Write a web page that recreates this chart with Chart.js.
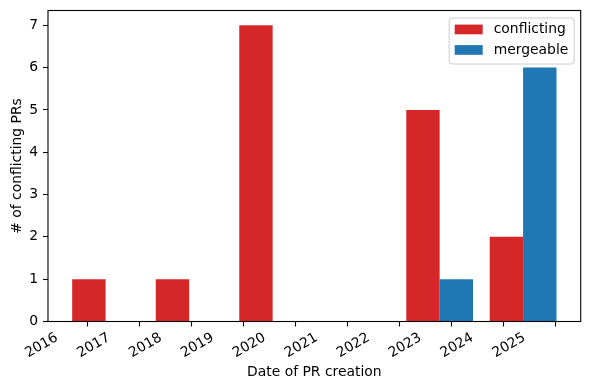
<!DOCTYPE html>
<html><head><meta charset="utf-8">
<script src="https://cdn.jsdelivr.net/npm/chart.js@4.4.1/dist/chart.umd.min.js"></script>
<style>html,body{margin:0;padding:0;background:#fff;}canvas{display:block;}</style>
</head><body>
<canvas id="c" width="590" height="390"></canvas>
<script>
// ---- data ----
const binCenters = ['2016-11-03','2018-06-14','2020-01-22','2021-09-01','2023-04-11','2024-11-18'];
const conflicting = [1, 1, 7, 0, 5, 2];
const mergeable   = [0, 0, 0, 0, 1, 6];
const yearTickLabels = ['2016','2017','2018','2019','2020','2021','2022','2023','2024','2025'];
const yTickValues = [0, 1, 2, 3, 4, 5, 6, 7];
const seriesNames = ['conflicting', 'mergeable'];
const xTitle = 'Date of PR creation';
const yTitle = '# of conflicting PRs';

// ---- helpers ----
const toDay = s => Date.parse(s + 'T00:00:00Z') / 864e5;
const xs = binCenters.map(toDay);
const binW = (xs[xs.length - 1] - xs[0]) / (xs.length - 1);
const lo = xs[0] - 0.4 * binW, hi = xs[xs.length - 1] + 0.4 * binW;
const span = hi - lo;
const xMin = lo - 0.05 * span, xMax = hi + 0.05 * span;
const yMaxData = Math.max(...conflicting, ...mergeable);
const yMax = yMaxData * 1.05;

const FS = 13.9;
Chart.defaults.font.family = 'DejaVu Sans';
Chart.defaults.font.size = FS;
Chart.defaults.color = '#000';

const framePlugin = {
  id: 'frameAndLegend',
  afterDraw(chart) {
    const ctx = chart.ctx, a = chart.chartArea;
    ctx.save();
    ctx.strokeStyle = '#000';
    ctx.lineWidth = 1.1;
    ctx.strokeRect(a.left, a.top, a.right - a.left, a.bottom - a.top);
    // legend (upper right)
    const bw = 125, bh = 46;
    const bx = a.right - 7 - bw, by = a.top + 7;
    ctx.beginPath();
    ctx.roundRect(bx + 0.5, by + 0.5, bw, bh, 3);
    ctx.fillStyle = 'rgba(255,255,255,0.8)';
    ctx.fill();
    ctx.strokeStyle = '#cccccc';
    ctx.lineWidth = 1;
    ctx.stroke();
    ctx.font = FS + 'px "DejaVu Sans"';
    ctx.textBaseline = 'middle';
    ctx.textAlign = 'left';
    chart.data.datasets.forEach((ds, i) => {
      const cy = by + 12 + i * 20.5;
      ctx.fillStyle = ds.backgroundColor;
      ctx.fillRect(bx + 6, cy - 4.9, 28, 9.7);
      ctx.fillStyle = '#000';
      ctx.fillText(ds.label, bx + 45, cy);
    });
    ctx.restore();
  }
};

new Chart(document.getElementById('c'), {
  type: 'bar',
  data: {
    datasets: [
      { label: seriesNames[0], data: xs.map((x, i) => ({ x, y: conflicting[i] })),
        backgroundColor: '#d62728', borderColor: '#d62728', borderWidth: 0, inflateAmount: 0 },
      { label: seriesNames[1], data: xs.map((x, i) => ({ x, y: mergeable[i] })),
        backgroundColor: '#1f77b4', borderColor: '#1f77b4', borderWidth: 0, inflateAmount: 0 }
    ]
  },
  options: {
    responsive: false,
    devicePixelRatio: 1,
    animation: false,
    events: [],
    layout: { padding: { left: 0, right: 9.3, top: 10.5, bottom: 0 } },
    datasets: { bar: { barThickness: 'flex', categoryPercentage: 0.8, barPercentage: 1.0 } },
    plugins: { legend: { display: false }, tooltip: { enabled: false } },
    scales: {
      x: {
        type: 'linear',
        min: xMin, max: xMax,
        offset: false,
        afterBuildTicks(scale) {
          scale.ticks = yearTickLabels.map(y => ({ value: toDay(y + '-01-01') }));
        },
        afterFit(scale) { scale.height = 68.5; scale.paddingLeft = 0; scale.paddingRight = 0; },
        ticks: {
          autoSkip: false,
          minRotation: 30, maxRotation: 30,
          padding: 3,
          labelOffset: -5,
          color: '#000',
          callback: (v, i) => yearTickLabels[i]
        },
        grid: { display: true, drawOnChartArea: false, drawTicks: true, tickLength: 5, tickColor: '#000', tickWidth: 1.1 },
        border: { display: false },
        title: { display: true, text: xTitle, color: '#000', font: { size: FS }, padding: { top: 0, bottom: 9.7 } }
      },
      y: {
        type: 'linear',
        min: 0, max: yMax,
        afterBuildTicks(scale) {
          scale.ticks = yTickValues.map(v => ({ value: v }));
        },
        afterFit(scale) { scale.width = 48; scale.paddingTop = 0; scale.paddingBottom = 0; },
        ticks: { padding: 5, color: '#000', callback: v => String(v) },
        grid: { display: true, drawOnChartArea: false, drawTicks: true, tickLength: 5, tickColor: '#000', tickWidth: 1.1 },
        border: { display: false },
        title: { display: true, text: yTitle, color: '#000', font: { size: FS }, padding: { top: 9, bottom: 0 } }
      }
    }
  },
  plugins: [framePlugin]
});
</script>
</body></html>
